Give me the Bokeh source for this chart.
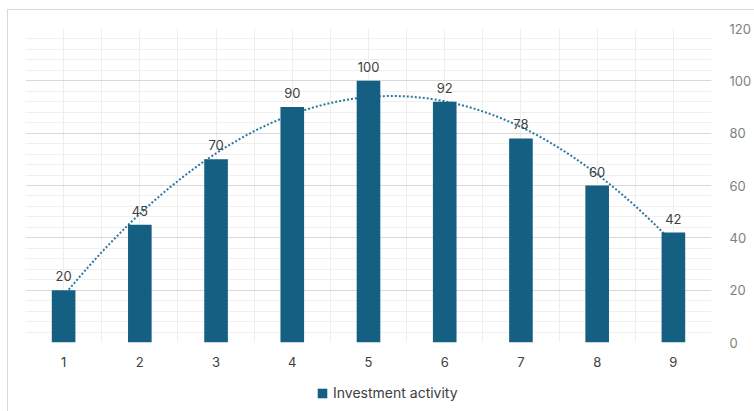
import numpy as np
from bokeh.plotting import figure
from bokeh.layouts import column
from bokeh.models import (ColumnDataSource, FixedTicker, Legend, LegendItem,
                          LabelSet, Range1d)
from bokeh.core.properties import value
from bokeh.embed import file_html
from bokeh.resources import INLINE

categories = [1, 2, 3, 4, 5, 6, 7, 8, 9]
values = [20, 45, 70, 90, 100, 92, 78, 60, 42]
y_ticks = [0, 20, 40, 60, 80, 100, 120]
series_name = "Investment activity"

BAR = "#156082"
FONT = "Inter"

p = figure(width=746, height=368, output_backend="svg", toolbar_location=None,
           x_range=Range1d(0.5, 9.5), y_range=Range1d(0, 120),
           y_axis_location="right",
           min_border_left=17, min_border_right=39, min_border_top=18,
           min_border_bottom=36)
p.outline_line_color = None
p.background_fill_color = "white"
p.border_fill_color = "white"

src = ColumnDataSource(dict(x=categories, y=values,
                            lab=[str(v) for v in values]))

# polynomial (order 2) trendline fitted to the series, drawn behind the bars
xs = np.linspace(categories[0], categories[-1], 200)
coef = np.polyfit(categories, values, 2)
p.line(xs, np.polyval(coef, xs), line_color="#2a78a0", line_width=2,
       line_dash="2 2")

bars = p.vbar(x="x", top="y", width=0.31, source=src, fill_color=BAR,
              line_color=None)

labels = LabelSet(x="x", y="y", text="lab", source=src, text_align="center",
                  text_baseline="bottom", y_offset=9,
                  text_font_size=value("13px"),
                  text_color=value("#404040"), text_font=value(FONT))
p.add_layout(labels)

# axes
p.xaxis.ticker = FixedTicker(ticks=categories)
p.xaxis.axis_line_color = None
p.xaxis.major_tick_line_color = None
p.xaxis.minor_tick_line_color = None
p.xaxis.major_label_standoff = 8
p.xaxis.major_label_text_font_size = "13px"
p.xaxis.major_label_text_color = "#404040"
p.xaxis.major_label_text_font = FONT

p.yaxis.ticker = FixedTicker(ticks=y_ticks)
p.yaxis.axis_line_color = None
p.yaxis.major_tick_line_color = None
p.yaxis.minor_tick_line_color = None
p.yaxis.major_label_standoff = 12
p.yaxis.major_label_text_font_size = "13px"
p.yaxis.major_label_text_color = "#7f7f7f"
p.yaxis.major_label_text_font = FONT

# grids
p.xgrid.ticker = FixedTicker(ticks=[0.5 + 0.5 * i for i in range(19)])
p.xgrid.grid_line_color = "#eeeeee"
p.ygrid.ticker = FixedTicker(ticks=y_ticks,
                             minor_ticks=[v for v in range(0, 121, 4)])
p.ygrid.grid_line_color = "#d9d9d9"
p.ygrid.minor_grid_line_color = "#f0f0f0"

# legend strip below the chart (its bar renderer lies below the strip's view)
p2 = figure(width=746, height=33, output_backend="svg", toolbar_location=None,
            x_axis_type=None, y_axis_type=None,
            x_range=Range1d(0.5, 9.5), y_range=Range1d(101, 102),
            min_border=0)
p2.outline_line_color = None
p2.xgrid.visible = False
p2.ygrid.visible = False
legend_bars = p2.vbar(x="x", top="y", width=0.31, source=src,
                      fill_color=BAR, line_color=None)
legend = Legend(items=[LegendItem(label=series_name, renderers=[legend_bars])],
                orientation="horizontal", location=(291, 10),
                label_text_font_size="14px", label_text_color="#404040",
                label_text_font=FONT, glyph_width=12, glyph_height=12,
                label_standoff=5, border_line_color=None,
                background_fill_alpha=0, padding=4, margin=0)
p2.add_layout(legend)

layout = column(p, p2, spacing=0,
                styles={"margin-left": "7px", "margin-top": "9px",
                        "border-left": "1.5px solid #d9d9d9",
                        "border-top": "1.5px solid #d9d9d9"})

open("out.html", "w").write(file_html(layout, INLINE))
